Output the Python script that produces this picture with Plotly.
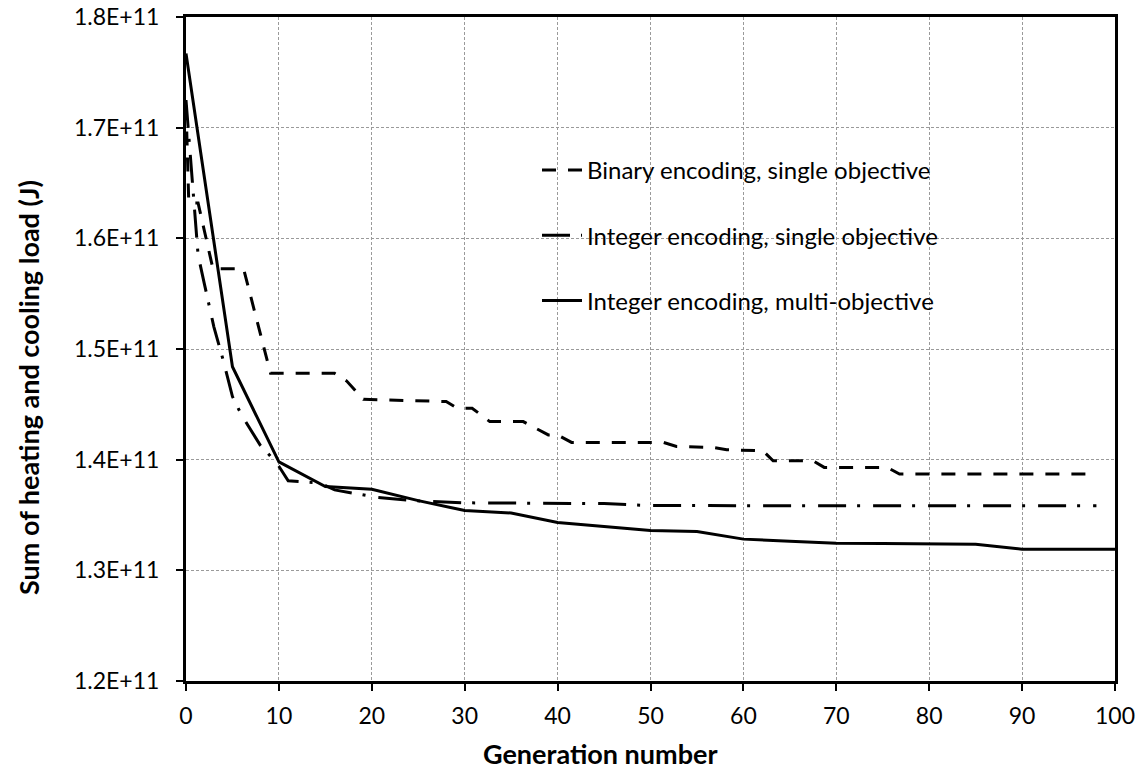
import plotly.graph_objects as go

# ---------------- data (values in units of 1E+11 J) ----------------
binary_gen = [0, 0.3, 1.3, 2.9, 6.2, 9.1, 16.0, 17.3, 19.1, 28.0, 29.2, 30.8, 32.7, 36.3,
              39.0, 40.0, 41.5, 51.4, 52.8, 56.8, 58.2, 62.1, 63.2, 67.5, 68.7, 75.5,
              76.8, 97.0, 97.8]
binary_val = [1.720, 1.632, 1.632, 1.5725, 1.5725, 1.478, 1.478, 1.471, 1.4545, 1.4525,
              1.4465, 1.4465, 1.4344, 1.4344, 1.4224, 1.4224, 1.4156, 1.4156, 1.412,
              1.411, 1.409, 1.408, 1.399, 1.399, 1.393, 1.393, 1.387, 1.387, 1.382]

int_single_gen = [0, 0.7, 1.3, 2.0, 3.0, 4.0, 5.0, 6.0, 7.0, 8.0, 9.0, 10.0, 11.0, 14.4,
                  16.0, 20.5, 24.5, 30.0, 45.0, 50.0, 98.0]
int_single_val = [1.725, 1.645, 1.585, 1.558, 1.520, 1.490, 1.457, 1.440, 1.427, 1.413,
                  1.404, 1.394, 1.381, 1.379, 1.3727, 1.366, 1.363, 1.361, 1.3603,
                  1.3585, 1.3583]

multi_gen = [0, 5, 10, 15, 20, 25, 30, 35, 40, 45, 50, 55, 60, 65, 70, 75, 80, 85, 90, 95, 100]
multi_val = [1.767, 1.484, 1.398, 1.3757, 1.3733, 1.363, 1.354, 1.3518, 1.3432, 1.3396,
             1.3359, 1.335, 1.3282, 1.3263, 1.3245, 1.3242, 1.3236, 1.3236, 1.3191,
             1.3191, 1.3191]

series_names = ["Binary encoding, single objective",
                "Integer encoding, single objective",
                "Integer encoding, multi-objective"]

y_tick_vals = [1.2, 1.3, 1.4, 1.5, 1.6, 1.7, 1.8]
y_tick_text = ["1.2E+11", "1.3E+11", "1.4E+11", "1.5E+11", "1.6E+11", "1.7E+11", "1.8E+11"]
x_tick_vals = [0, 10, 20, 30, 40, 50, 60, 70, 80, 90, 100]

x_title = "Generation number"
y_title = "Sum of heating and cooling load (J)"

SCALE = 1e11
FONT = "Lato"

fig = go.Figure()

fig.add_trace(go.Scatter(
    x=binary_gen, y=[v * SCALE for v in binary_val], mode="lines",
    name=series_names[0], legendgroup="a",
    line=dict(color="black", width=3, dash="14px,12px"),
))
fig.add_trace(go.Scatter(
    x=int_single_gen, y=[v * SCALE for v in int_single_val], mode="lines",
    name=series_names[1], legendgroup="b",
    line=dict(color="black", width=3, dash="28px,11px,3px,13px"),
))
fig.add_trace(go.Scatter(
    x=multi_gen, y=[v * SCALE for v in multi_val], mode="lines",
    name=series_names[2], legendgroup="c",
    line=dict(color="black", width=3),
))

W, H = 1141, 771
ml, mr, mt, mb = 186, 26, 17, 90
pw, ph = W - ml - mr, H - mt - mb

def px_x(p):
    return (p - ml) / pw

def px_y(p):
    return (H - mb - p) / ph

axis_common = dict(
    showline=True, linecolor="black", linewidth=3, mirror=True,
    ticks="outside", ticklen=7, tickwidth=2, tickcolor="black",
    showgrid=True, gridcolor="#9a9a9a", gridwidth=1, griddash="3px,2px",
    zeroline=False, automargin=False,
    tickfont=dict(family=FONT, size=23, color="black"),
)

fig.update_xaxes(range=[0, 100], tickvals=x_tick_vals, ticklabelstandoff=5, **axis_common)
fig.update_yaxes(range=[1.2 * SCALE, 1.8 * SCALE],
                 tickvals=[v * SCALE for v in y_tick_vals], ticktext=y_tick_text,
                 ticklabelstandoff=12, **axis_common)

# white legend panel hiding the grid behind the legend
fig.add_shape(type="rect", xref="paper", yref="paper",
              x0=px_x(510), x1=px_x(973), y0=px_y(338), y1=px_y(137),
              fillcolor="white", line=dict(width=0), layer="between")

fig.update_layout(
    width=W, height=H,
    margin=dict(l=ml, r=mr, t=mt, b=mb, autoexpand=False),
    paper_bgcolor="white", plot_bgcolor="white",
    font=dict(family=FONT, color="black"),
    showlegend=True,
    legend=dict(
        x=px_x(537), xanchor="left", y=px_y(148), yanchor="top",
        bgcolor="rgba(0,0,0,0)", borderwidth=0,
        font=dict(family=FONT, size=24, color="black"),
        itemwidth=40, tracegroupgap=31, traceorder="grouped",
    ),
    annotations=[
        dict(text="<b>%s</b>" % x_title, xref="paper", yref="paper",
             x=px_x(600), y=px_y(753), xanchor="center", yanchor="middle",
             showarrow=False, font=dict(family=FONT, size=27, color="black")),
        dict(text="<b>%s</b>" % y_title, xref="paper", yref="paper",
             x=px_x(28), y=px_y(388), xanchor="center", yanchor="middle",
             textangle=-90, showarrow=False,
             font=dict(family=FONT, size=27, color="black")),
    ],
)

fig.write_html("out.html")
